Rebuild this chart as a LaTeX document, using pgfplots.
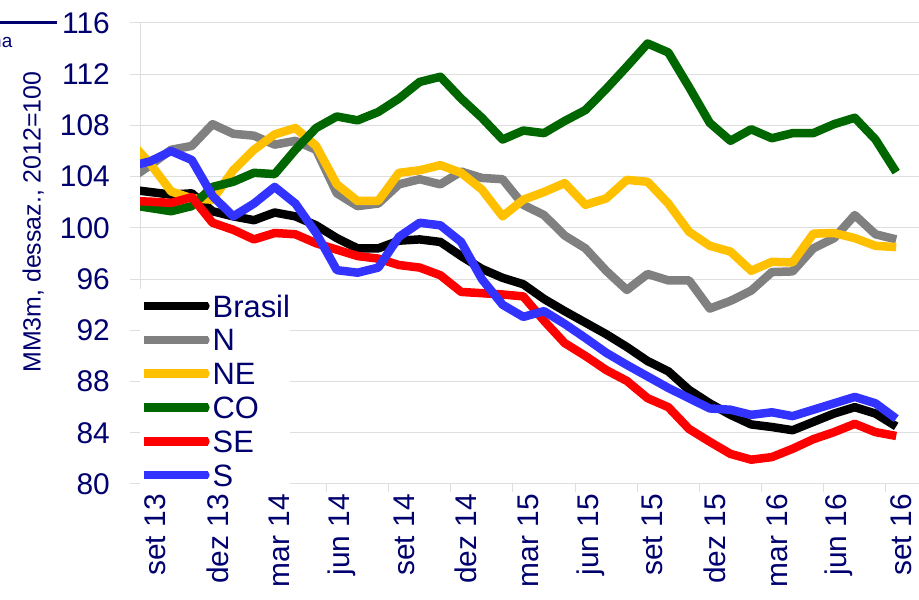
\documentclass[border=0pt]{standalone}
\usepackage{pgfplots}
\pgfplotsset{compat=1.18}
\usepackage{pgfplotstable}
\usepackage{fontspec}
\setmainfont{Liberation Sans}
\definecolor{navy}{RGB}{0,0,110}
\definecolor{cGray}{RGB}{128,128,128}
\definecolor{cYel}{RGB}{255,192,0}
\definecolor{cGreen}{RGB}{0,102,0}
\definecolor{cRed}{RGB}{255,0,0}
\definecolor{cBlue}{RGB}{51,51,255}
\definecolor{gridc}{RGB}{222,222,222}

\pgfplotstableread{
i   br     n      ne     co     se     s
-1  103.0  103.8  106.8  101.8  102.1  104.8
0   102.8  104.9  105.0  101.55 102.05 105.2
1   102.6  106.1  102.85 101.3  101.95 106.0
2   102.7  106.4  102.3  101.7  102.4  105.3
3   101.3  108.1  102.2  103.2  100.4  102.5
4   100.9  107.35 104.5  103.6  99.85  100.9
5   100.6  107.2  106.1  104.3  99.1   101.9
6   101.2  106.5  107.3  104.2  99.6   103.2
7   100.9  106.8  107.8  106.1  99.5   101.9
8   100.2  106.1  106.4  107.8  98.8   99.6
9   99.2   102.7  103.4  108.7  98.3   96.7
10  98.4   101.7  102.1  108.4  97.8   96.5
11  98.4   101.9  102.1  109.05 97.6   96.9
12  99.0   103.4  104.3  110.1  97.1   99.3
13  99.1   103.8  104.5  111.4  96.9   100.4
14  98.9   103.4  104.9  111.8  96.3   100.2
15  97.8   104.4  104.3  110.1  95.0   98.9
16  96.8   103.9  103.0  108.6  94.9   96.0
17  96.1   103.8  100.9  106.9  94.8   94.0
18  95.6   101.8  102.2  107.6  94.65  93.05
19  94.45  101.0  102.8  107.4  92.75  93.5
20  93.5   99.4   103.5  108.35 91.0   92.5
21  92.6   98.4   101.8  109.2  90.0   91.4
22  91.7   96.65  102.3  110.85 88.9   90.25
23  90.7   95.15  103.75 112.6  88.05  89.3
24  89.6   96.4   103.6  114.4  86.7   88.4
25  88.8   95.9   101.9  113.7  86.0   87.5
26  87.35  95.9   99.7   111.0  84.3   86.7
27  86.3   93.7   98.6   108.2  83.3   85.9
28  85.4   94.3   98.15  106.8  82.35  85.8
29  84.65  95.1   96.65  107.7  81.9   85.4
30  84.45  96.55  97.35  107.0  82.1   85.6
31  84.2   96.6   97.3   107.4  82.75  85.3
32  84.85  98.4   99.55  107.4  83.5   85.8
33  85.5   99.2   99.6   108.1  84.05  86.3
34  86.0   101.0  99.2   108.6  84.7   86.8
35  85.5   99.5   98.6   106.9  84.05  86.3
36  84.5   99.1   98.5   104.35 83.75  85.1
}\data

\begin{document}
\begin{tikzpicture}
\begin{axis}[
  at={(140bp,116bp)}, anchor=south west,
  scale only axis, width=779bp, height=461bp,
  xmin=-0.5, xmax=37.1, ymin=80, ymax=116,
  ytick={80,84,...,116},
  xtick={0,3,...,36},
  xticklabels={set 13,dez 13,mar 14,jun 14,set 14,dez 14,mar 15,jun 15,set 15,dez 15,mar 16,jun 16,set 16},
  minor xtick={-0.5,2.5,...,35.5},
  every major x tick/.append style={draw=none},
  tick align=outside,
  major tick length=10bp,
  minor tick length=8bp,
  tick style={gridc, line width=1bp},
  ymajorgrids,
  major grid style={gridc, line width=1bp},
  axis x line*=bottom, axis y line*=left,
  axis line style={gridc, line width=1bp},
  /pgf/number format/assume math mode=true,
  ticklabel style={font=\fontsize{30}{30}\selectfont, text=navy},
  yticklabel style={anchor=east, inner sep=0pt, xshift=-20bp},
  xticklabel style={rotate=90, anchor=east, inner sep=0pt, yshift=-5bp},
  ylabel={MM3m, dessaz., 2012=100},
  ylabel style={at={(axis description cs:-0.137,0.568)}, anchor=center, font=\fontsize{25}{25}\selectfont, text=navy},
  legend style={at={(axis description cs:0,0.423)}, anchor=north west,
    draw=none, fill=white, inner xsep=0pt, inner ysep=0pt,
    font=\fontsize{31}{31}\selectfont, text=navy,
    cells={anchor=west},
    nodes={inner sep=0pt, text height=24bp, text depth=2bp, minimum height=33.8bp}},
  legend image code/.code={
    \path (0bp,0bp) -- (64bp,0bp);
    \draw[#1, line width=8.5bp, line cap=round] (15bp,0bp) -- (61bp,0bp);
  },
  every axis plot/.append style={line width=8.5bp, line join=round, no markers},
]
\addplot[black] table[x=i, y=br] {\data};
\addlegendentry{Brasil}
\addplot[cGray] table[x=i, y=n] {\data};
\addlegendentry{N}
\addplot[cYel] table[x=i, y=ne] {\data};
\addlegendentry{NE}
\addplot[cGreen] table[x=i, y=co] {\data};
\addlegendentry{CO}
\addplot[cRed] table[x=i, y=se] {\data};
\addlegendentry{SE}
\addplot[cBlue] table[x=i, y=s] {\data};
\addlegendentry{S}
\end{axis}
\draw[navy, line width=3bp] (-5bp,577bp) -- (57bp,577bp);
\node[anchor=base east, font=\fontsize{19}{19}\selectfont, text=navy, inner sep=0pt] at (12.5bp,552bp) {na};
\pgfresetboundingbox
\useasboundingbox (0,0) rectangle (919bp,600bp);
\end{tikzpicture}
\end{document}
